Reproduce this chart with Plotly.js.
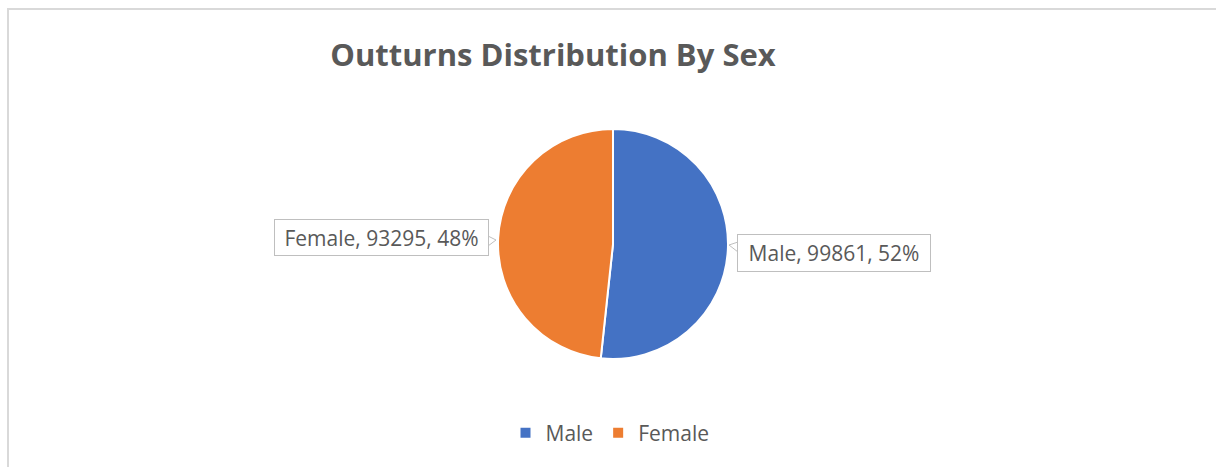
<!DOCTYPE html>
<html>
<head>
<meta charset="utf-8">
<script src="https://cdn.plot.ly/plotly-3.0.1.min.js"></script>
<style>html,body{margin:0;padding:0;background:#fff;}#chart{width:1216px;height:467px;}</style>
</head>
<body>
<div id="chart"></div>
<script>
const labels = ["Male", "Female"];
const values = [99861, 93295];
const colors = ["#4472C4", "#ED7D31"];
const chartTitle = "Outturns Distribution By Sex";

const W = 1216, H = 467;
const px = x => x / W;
const py = y => 1 - y / H;
const total = values.reduce((a, b) => a + b, 0);
const labelText = labels.map((l, i) => `${l}, ${values[i]}, ${Math.round(values[i] / total * 100)}%`);

const FONT = "Open Sans, sans-serif";
const textColor = "#595959";

const cx = 613, cy = 244, r = 115;

const data = [{
  type: "pie",
  labels: labels,
  values: values,
  marker: {colors: colors, line: {color: "#ffffff", width: 2}},
  sort: false,
  direction: "clockwise",
  rotation: 0,
  textinfo: "none",
  hoverinfo: "label+value+percent",
  domain: {x: [px(cx - r), px(cx + r)], y: [py(cy + r), py(cy - r)]}
}];

const boxes = [
  {cx: 834, cy: 253, w: 194, h: 38},
  {cx: 381, cy: 238, w: 215, h: 37}
];

const annotations = labelText.map((t, i) => ({
  text: t,
  xref: "paper", yref: "paper",
  x: px(boxes[i].cx), y: py(boxes[i].cy),
  xanchor: "center", yanchor: "middle",
  showarrow: false,
  width: boxes[i].w - 2, height: boxes[i].h - 2,
  borderpad: 0,
  bordercolor: "#bfbfbf", borderwidth: 1, bgcolor: "#ffffff",
  font: {family: FONT, size: 21, color: textColor}
}));

const shapes = [
  {type: "rect", xref: "paper", yref: "paper", x0: px(8), x1: 1.02, y0: -0.02, y1: py(9),
   line: {color: "#d9d9d9", width: 2}, fillcolor: "rgba(0,0,0,0)", layer: "below"},
  // callout pointers
  {type: "path", xref: "paper", yref: "paper",
   path: `M ${px(738)} ${py(242)} L ${px(729)} ${py(245)} L ${px(738)} ${py(252)}`,
   line: {color: "#bfbfbf", width: 1}, fillcolor: "#ffffff"},
  {type: "path", xref: "paper", yref: "paper",
   path: `M ${px(488)} ${py(236)} L ${px(496)} ${py(240)} L ${px(488)} ${py(246)}`,
   line: {color: "#bfbfbf", width: 1}, fillcolor: "#ffffff"}
];

const layout = {
  width: W, height: H,
  margin: {l: 0, r: 0, t: 0, b: 0},
  paper_bgcolor: "#ffffff",
  plot_bgcolor: "#ffffff",
  title: {text: "<b>" + chartTitle + "</b>", x: px(553), xanchor: "center", xref: "paper",
          y: py(55), yanchor: "middle", yref: "container",
          font: {family: FONT, size: 31, color: textColor}},
  showlegend: true,
  legend: {orientation: "h", x: px(610), xanchor: "center", y: py(433), yanchor: "middle",
           font: {family: FONT, size: 21, color: textColor}, itemwidth: 30, traceorder: "normal"},
  annotations: annotations,
  shapes: shapes
};

Plotly.newPlot("chart", data, layout, {displayModeBar: false, staticPlot: true});
</script>
</body>
</html>
